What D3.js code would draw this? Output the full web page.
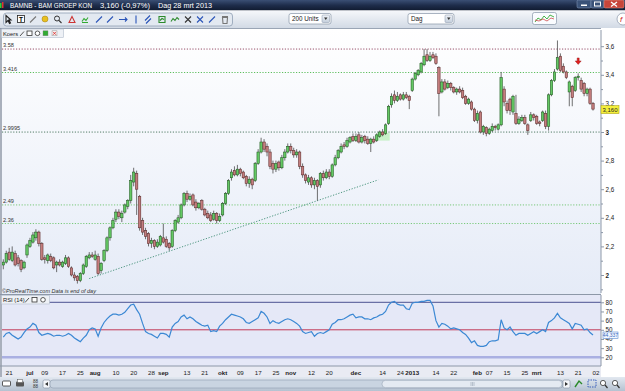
<!DOCTYPE html>
<html>
<head>
<meta charset="utf-8">
<script src="https://cdn.jsdelivr.net/npm/d3@7"></script>
<style>
body { margin: 0; background: #fff; }
svg { display: block; font-family: "Liberation Sans", Arial, sans-serif; }
</style>
</head>
<body>
<script>
// daily bars BAMNB, 19 jun 2012 - 28 mrt 2013 (index 0..199)
const opens = [2.07,2.09,2.16,2.10,2.15,2.12,2.10,2.05,2.14,2.20,2.23,2.26,2.30,2.22,2.12,2.10,2.13,2.12,2.07,2.09,
    2.06,2.08,2.12,2.05,2.00,1.99,1.96,2.01,2.06,2.12,2.14,2.11,2.13,2.03,2.10,2.17,2.26,2.33,2.39,2.44,
    2.40,2.44,2.48,2.52,2.65,2.71,2.55,2.38,2.31,2.29,2.22,2.24,2.20,2.21,2.26,2.25,2.22,2.20,2.31,2.37,
    2.40,2.49,2.57,2.53,2.56,2.51,2.47,2.52,2.46,2.43,2.42,2.39,2.43,2.38,2.42,2.50,2.57,2.68,2.73,2.70,
    2.74,2.72,2.69,2.64,2.67,2.66,2.78,2.86,2.93,2.90,2.86,2.78,2.74,2.79,2.75,2.82,2.86,2.90,2.87,2.84,
    2.86,2.76,2.70,2.65,2.68,2.63,2.66,2.63,2.71,2.68,2.72,2.69,2.77,2.82,2.86,2.91,2.90,2.93,2.97,2.94,
    2.98,2.93,2.97,2.95,2.92,2.95,2.94,2.97,3.00,2.99,3.06,3.19,3.26,3.22,3.26,3.23,3.26,3.25,3.29,3.37,
    3.40,3.42,3.47,3.54,3.50,3.54,3.53,3.45,3.28,3.35,3.31,3.34,3.31,3.28,3.30,3.29,3.25,3.20,3.21,3.16,
    3.08,3.14,3.00,3.03,2.99,3.01,3.04,3.02,3.05,3.30,3.20,3.23,3.14,3.13,3.06,3.08,3.10,3.05,3.08,3.12,
    3.11,3.07,3.08,3.13,3.04,3.26,3.36,3.44,3.53,3.46,3.42,3.28,3.32,3.29,3.38,3.36,3.34,3.27,3.30,3.20]
const highs = [2.11,2.17,2.19,2.20,2.17,2.14,2.11,2.10,2.22,2.26,2.30,2.32,2.31,2.23,2.14,2.15,2.15,2.13,2.10,2.11,
    2.10,2.14,2.13,2.06,2.02,2.00,2.02,2.08,2.14,2.16,2.16,2.17,2.15,2.09,2.18,2.27,2.34,2.40,2.46,2.46,
    2.45,2.50,2.53,2.70,2.75,2.73,2.56,2.40,2.33,2.30,2.26,2.25,2.25,2.28,2.36,2.27,2.23,2.32,2.39,2.42,
    2.50,2.58,2.59,2.57,2.57,2.53,2.51,2.53,2.47,2.45,2.44,2.45,2.44,2.43,2.51,2.58,2.67,2.74,2.76,2.77,
    2.75,2.73,2.70,2.69,2.68,2.79,2.88,2.96,2.95,2.92,2.88,2.80,2.80,2.80,2.84,2.88,2.92,2.92,2.89,2.88,
    2.87,2.78,2.71,2.70,2.69,2.68,2.67,2.72,2.73,2.74,2.74,2.78,2.84,2.88,2.92,2.93,2.96,2.97,2.99,2.99,
    3.00,2.98,2.98,2.97,2.96,2.97,2.99,3.01,3.02,3.06,3.19,3.27,3.29,3.28,3.27,3.28,3.28,3.26,3.38,3.42,
    3.44,3.49,3.58,3.58,3.56,3.56,3.55,3.46,3.37,3.37,3.36,3.35,3.32,3.31,3.32,3.31,3.26,3.24,3.22,3.17,
    3.15,3.15,3.05,3.04,3.03,3.06,3.05,3.06,3.42,3.32,3.22,3.24,3.26,3.26,3.11,3.12,3.12,3.06,3.14,3.13,
    3.12,3.08,3.15,3.15,3.27,3.37,3.44,3.64,3.55,3.48,3.43,3.36,3.33,3.39,3.41,3.38,3.35,3.31,3.31,3.21]
const lows = [2.04,2.08,2.10,2.09,2.06,2.06,2.02,2.04,2.12,2.19,2.22,2.24,2.20,2.10,2.08,2.08,2.09,2.04,2.02,2.06,
    2.05,2.07,2.05,1.99,1.96,1.94,1.95,2.00,2.05,2.11,2.12,2.10,2.00,2.01,2.09,2.16,2.24,2.32,2.37,2.39,
    2.37,2.43,2.46,2.50,2.62,2.42,2.31,2.28,2.25,2.20,2.19,2.18,2.19,2.20,2.22,2.19,2.17,2.19,2.30,2.36,
    2.39,2.48,2.51,2.52,2.48,2.45,2.46,2.45,2.41,2.39,2.37,2.38,2.36,2.37,2.41,2.49,2.56,2.66,2.69,2.69,
    2.69,2.67,2.62,2.61,2.60,2.65,2.77,2.85,2.86,2.83,2.74,2.71,2.72,2.73,2.74,2.80,2.85,2.85,2.82,2.82,
    2.74,2.68,2.64,2.63,2.61,2.60,2.52,2.61,2.66,2.67,2.67,2.68,2.76,2.81,2.85,2.88,2.89,2.92,2.93,2.93,
    2.92,2.92,2.92,2.91,2.86,2.92,2.93,2.96,2.97,2.98,3.05,3.17,3.20,3.21,3.22,3.22,3.23,3.16,3.28,3.36,
    3.39,3.41,3.46,3.49,3.49,3.51,3.47,3.11,3.27,3.29,3.30,3.29,3.27,3.26,3.27,3.23,3.19,3.19,3.15,3.07,
    3.06,2.99,2.98,2.97,2.98,3.00,3.01,3.01,3.04,3.18,3.13,3.12,3.12,3.05,3.05,3.07,3.05,2.98,3.07,3.08,
    3.05,3.04,3.07,3.02,3.01,3.25,3.35,3.43,3.42,3.41,3.37,3.18,3.18,3.28,3.36,3.28,3.25,3.25,3.19,3.15]
const closes = [2.09,2.15,2.11,2.16,2.07,2.08,2.04,2.09,2.21,2.24,2.28,2.30,2.22,2.11,2.11,2.14,2.10,2.05,2.09,2.07,
    2.09,2.12,2.06,2.00,1.98,1.96,2.01,2.07,2.13,2.14,2.13,2.14,2.01,2.08,2.17,2.26,2.33,2.38,2.44,2.41,
    2.43,2.49,2.52,2.66,2.72,2.60,2.33,2.30,2.27,2.22,2.24,2.20,2.23,2.27,2.23,2.20,2.19,2.31,2.38,2.40,
    2.49,2.57,2.53,2.55,2.49,2.47,2.50,2.46,2.42,2.40,2.38,2.43,2.38,2.41,2.50,2.57,2.66,2.72,2.70,2.74,
    2.71,2.68,2.64,2.67,2.63,2.78,2.86,2.93,2.88,2.86,2.76,2.74,2.78,2.75,2.82,2.86,2.90,2.87,2.84,2.86,
    2.76,2.70,2.66,2.68,2.63,2.66,2.62,2.71,2.68,2.72,2.69,2.77,2.82,2.87,2.90,2.90,2.94,2.96,2.94,2.97,
    2.93,2.96,2.94,2.92,2.95,2.93,2.98,3.00,2.98,3.05,3.18,3.25,3.22,3.25,3.23,3.26,3.24,3.22,3.37,3.41,
    3.43,3.48,3.53,3.50,3.53,3.52,3.48,3.27,3.35,3.30,3.34,3.31,3.28,3.30,3.28,3.24,3.20,3.23,3.16,3.08,
    3.13,3.00,3.04,2.99,3.02,3.04,3.03,3.05,3.38,3.21,3.15,3.15,3.25,3.06,3.09,3.10,3.06,3.01,3.12,3.10,
    3.06,3.06,3.14,3.04,3.26,3.36,3.42,3.52,3.43,3.42,3.38,3.35,3.24,3.38,3.39,3.30,3.27,3.30,3.20,3.16]

// RSI (14), read per bar
const rsi = [42,46,47,44,42,40,42,47,51,53,57,55,47,44,45,46,45,43,44,44,
    43,44,46,44,41,39,37,41,44,50,52,51,43,52,58,62,65,67,67,66,
    67,69,73,77,78,72,67,57,48,46,45,43,41,46,46,45,42,53,57,59,
    64,66,62,64,62,59,57,55,54,55,48,49,48,54,57,61,64,67,66,65,
    64,62,58,57,59,61,63,70,68,64,57,60,58,57,59,61,62,61,59,57,
    54,48,46,47,48,43,46,47,46,48,50,56,58,61,61,62,64,66,67,63,
    64,64,62,62,61,63,64,66,67,70,77,80,81,78,77,77,73,72,79,80,
    80,81,81,82,82,76,60,53,57,56,54,51,52,51,50,47,45,41,36,38,
    33,32,32,33,37,38,38,39,61,52,50,53,48,44,46,46,46,44,46,48,
    46,48,50,48,58,60,63,68,63,61,59,57,51,57,56,55,50,51,47,44.337]

// horizontal levels drawn on the chart
const levels = [3.58, 3.416, 2.9995, 2.49, 2.36]
// trend line: [bar index, price]
const trendLine = [[29, 1.975], [126.5, 2.665]]
// shaded zone: bar index from/to, price from/to
const zoneIdx = [126, 130.4]
const zonePrice = [2.94, 2.993]
// sell arrow above bar
const arrowIdx = 194
const arrowPrice = 3.49

const priceTicks = [2, 2.2, 2.4, 2.6, 2.8, 3, 3.2, 3.4, 3.6]
const priceMinor = [1.9, 2.1, 2.3, 2.5, 2.7, 2.9, 3.1, 3.3, 3.5]
const rsiTicks = [20, 30, 40, 50, 60, 70, 80]
const rsiLevels = [80, 50, 20]
const dateTickIdx = [2, 9, 14, 20, 26, 31, 38, 44, 50, 54, 62, 68, 74, 80, 86, 92, 97, 104, 110, 119,
    128, 134, 138, 146, 152, 160, 164, 170, 176, 180, 188, 194, 200]
const dateTickText = ['21', 'jul', '09', '17', '25', 'aug', '10', '20', '28', 'sep', '13', '21', 'okt', '09', '17', '25', 'nov', '12', '20', 'dec',
    '14', '24', '2013', '14', '22', 'feb', '07', '15', '25', 'mrt', '13', '21', '02']

let nl = d3.formatLocale({decimal: ',', thousands: '.', grouping: [3], currency: ['€', '']})

let svg = d3.select('body')
    .append('svg')
    .attr('width', 625)
    .attr('height', 391)

let defs = svg.append('defs')
function vgrad(id, stops) {
    let g = defs.append('linearGradient').attr('id', id)
        .attr('x1', 0).attr('y1', 0).attr('x2', 0).attr('y2', 1)
    stops.forEach(s => g.append('stop').attr('offset', s[0]).attr('stop-color', s[1]))
}
vgrad('titleBg', [[0, '#3a4f74'], [0.5, '#1e2d4b'], [1, '#101b30']])
vgrad('toolBg', [[0, '#f6f8fb'], [1, '#d2dae5']])
vgrad('panelBg', [[0, '#ffffff'], [1, '#e5ebf7']])
vgrad('bottomBg', [[0, '#e2e8f0'], [1, '#b5c2d1']])
vgrad('btnBg', [[0, '#f0f3f8'], [1, '#c3cedb']])

defs.append('clipPath').attr('id', 'priceClip')
    .append('rect').attr('x', 2).attr('y', 29).attr('width', 599).attr('height', 264)
defs.append('clipPath').attr('id', 'rsiClip')
    .append('rect').attr('x', 2).attr('y', 295).attr('width', 599).attr('height', 71)

let x = d3.scaleLinear().domain([0, 199]).range([3.3, 593])
let y = d3.scaleLinear().domain([2, 3.6]).range([275, 46.2])
let yr = d3.scaleLinear().domain([20, 80]).range([357.3, 302.3])

// ---------- title bar ----------
svg.append('rect').attr('x', 0).attr('y', 0).attr('width', 625).attr('height', 10.5).attr('fill', 'url(#titleBg)')
svg.append('rect').attr('x', 0).attr('y', 3).attr('width', 1.5).attr('height', 5).attr('fill', '#3c3')
svg.append('rect').attr('x', 2).attr('y', 2).attr('width', 1.5).attr('height', 6).attr('fill', '#d33')
let title = svg.append('g').attr('fill', '#fff').attr('font-size', '7px')
title.append('text').attr('x', 10).attr('y', 8).attr('textLength', 82).attr('lengthAdjust', 'spacingAndGlyphs').text('BAMNB - BAM GROEP KON')
title.append('text').attr('x', 100).attr('y', 8).attr('textLength', 50).attr('lengthAdjust', 'spacingAndGlyphs').text('3,160 (-0,97%)')
title.append('text').attr('x', 158).attr('y', 8).attr('textLength', 54).attr('lengthAdjust', 'spacingAndGlyphs').text('Dag  28 mrt 2013')
// window buttons
let wb = svg.append('g')
wb.append('rect').attr('x', 577).attr('y', 0).attr('width', 14).attr('height', 8).attr('rx', 1.5).attr('fill', '#3a5278').attr('stroke', '#8ea2c2').attr('stroke-width', 0.5)
wb.append('rect').attr('x', 581).attr('y', 4.5).attr('width', 6).attr('height', 1.5).attr('fill', '#fff')
wb.append('rect').attr('x', 591).attr('y', 0).attr('width', 13).attr('height', 8).attr('rx', 1.5).attr('fill', '#3a5278').attr('stroke', '#8ea2c2').attr('stroke-width', 0.5)
wb.append('rect').attr('x', 594.5).attr('y', 2).attr('width', 6).attr('height', 4).attr('fill', 'none').attr('stroke', '#fff').attr('stroke-width', 1)
wb.append('rect').attr('x', 604).attr('y', 0).attr('width', 20).attr('height', 8).attr('rx', 1.5).attr('fill', '#c8463a').attr('stroke', '#e8a090').attr('stroke-width', 0.5)
wb.append('path').attr('d', 'M611,2 L617,6.5 M617,2 L611,6.5').attr('stroke', '#fff').attr('stroke-width', 1.3)

// ---------- toolbar ----------
svg.append('rect').attr('x', 0).attr('y', 10.5).attr('width', 625).attr('height', 17.5).attr('fill', 'url(#toolBg)')
svg.append('rect').attr('x', 3.5).attr('y', 13).attr('width', 229).attr('height', 13).attr('rx', 3)
    .attr('fill', '#e3e9f1').attr('stroke', '#8f9fb4').attr('stroke-width', 0.8)
let icons = [
    [8, 'M-2,-4 L-2,3 L0,1 L1.5,4 L2.5,3.5 L1,0.5 L3,0.5 Z', '#222', 'none'],
    [33, 'M-3,3 L3,-3', '#777', 'none'],
    [58, 'M1,1 L3.5,3.5', '#333', 'none'],
    [72, 'M-3,3 L0,-3 L3,3 Z', '#c33', 'none'],
    [85, 'M-3,2 L-1,-1 L1,1 L3,-2 M-3,3 L3,3', '#3a3', 'none'],
    [99, 'M-3,3 L3,-3', '#2a54b8', 'none'],
    [110, 'M-3,3 L3,-3', '#2a54b8', 'none'],
    [123, 'M-4,0 L4,0 M2,-2 L4,0 L2,2', '#2a54b8', 'none'],
    [136, 'M0,-4 L0,4', '#2a54b8', 'none'],
    [148, 'M-3,1 L2,-4 M-2,4 L3,-1', '#2a54b8', 'none'],
    [162, 'M-3,-3 L3,-3 L3,3 L-3,3 Z M-2,1 L0,-1 L2,0', '#2b8a2b', 'none'],
    [175, 'M-4,2 L-2,-1 L0,1 L2,-2 L4,0', '#2b8a2b', 'none'],
    [188, 'M-3,-3 L3,3 M3,-3 L-3,3', '#333', 'none'],
    [200, 'M-3,-3 L3,3 M3,-3 L-3,3', '#2a54b8', 'none'],
    [212, 'M-3,3 L3,-3', '#2a54b8', 'none'],
    [225, 'M-2.5,-2 L2.5,-2 L2,4 L-2,4 Z M-3,-3 L3,-3', '#777', 'none']
]
let ig = svg.append('g')
icons.forEach(d => {
    ig.append('path').attr('transform', `translate(${d[0]},19.5)`).attr('d', d[1])
        .attr('stroke', d[2]).attr('stroke-width', 1.1).attr('fill', d[3])
})
ig.append('rect').attr('x', 17.5).attr('y', 15.5).attr('width', 7).attr('height', 7).attr('fill', '#fff').attr('stroke', '#222').attr('stroke-width', 0.8)
ig.append('text').attr('x', 21).attr('y', 21.7).attr('text-anchor', 'middle').attr('font-size', '6.5px').attr('font-weight', 'bold').text('T')
ig.append('circle').attr('cx', 45).attr('cy', 19).attr('r', 3).attr('fill', '#e8c020').attr('stroke', '#a07a10').attr('stroke-width', 0.5)
ig.append('circle').attr('cx', 57).attr('cy', 18.5).attr('r', 2.5).attr('fill', 'none').attr('stroke', '#333').attr('stroke-width', 1)

function combo(x0, w, label) {
    svg.append('rect').attr('x', x0).attr('y', 13.5).attr('width', w).attr('height', 10.5).attr('rx', 2)
        .attr('fill', '#fff').attr('stroke', '#8795a8').attr('stroke-width', 0.7)
    svg.append('text').attr('x', x0 + 3).attr('y', 21).attr('font-size', '6.3px').attr('fill', '#222').text(label)
    svg.append('rect').attr('x', x0 + w - 9).attr('y', 15).attr('width', 7.5).attr('height', 7.5).attr('rx', 1)
        .attr('fill', 'url(#btnBg)').attr('stroke', '#8795a8').attr('stroke-width', 0.5)
    svg.append('path').attr('d', `M${x0 + w - 7},17.5 L${x0 + w - 3.5},17.5 L${x0 + w - 5.25},20 Z`).attr('fill', '#333')
}
combo(289, 42, '200 Units')
combo(408, 46, 'Dag')
svg.append('rect').attr('x', 532.5).attr('y', 12.5).attr('width', 24).attr('height', 12).attr('rx', 2)
    .attr('fill', '#fafcff').attr('stroke', '#8795a8').attr('stroke-width', 0.7)
svg.append('path').attr('d', 'M535,22 L538,18 L541,20 L544,16 L547,19 L550,15 L554,17').attr('fill', 'none').attr('stroke', '#3a3').attr('stroke-width', 0.9)
svg.append('path').attr('d', 'M535,20 L539,21 L543,19 L547,21 L551,18 L554,19').attr('fill', 'none').attr('stroke', '#c33').attr('stroke-width', 0.7)
svg.append('circle').attr('cx', 623).attr('cy', 19).attr('r', 6).attr('fill', '#fff').attr('stroke', '#8795a8').attr('stroke-width', 0.7)
svg.append('text').attr('x', 620).attr('y', 22).attr('font-size', '8px').attr('font-style', 'italic').attr('fill', '#c22').text('f')

// ---------- price panel ----------
svg.append('rect').attr('x', 0).attr('y', 28).attr('width', 625).attr('height', 349).attr('fill', '#fff')
svg.append('rect').attr('x', 2).attr('y', 29).attr('width', 599).attr('height', 265).attr('fill', 'url(#panelBg)')
svg.append('line').attr('x1', 0).attr('x2', 601).attr('y1', 28.5).attr('y2', 28.5).attr('stroke', '#9aa5b5')
svg.append('line').attr('x1', 1).attr('x2', 1).attr('y1', 28).attr('y2', 377).attr('stroke', '#8c96a6').attr('stroke-width', 1.5)

let pg = svg.append('g').attr('clip-path', 'url(#priceClip)')

let levelColor = ['#8c3c58', '#4cb84c', '#3f6e55', '#6cc46c', '#6cc46c']
pg.selectAll('line.level').data(levels).join('line').attr('class', 'level')
    .attr('x1', 2).attr('x2', 601)
    .attr('y1', d => y(d)).attr('y2', d => y(d))
    .attr('stroke', (d, i) => levelColor[i]).attr('stroke-width', 0.9).attr('stroke-dasharray', '1.2,1.6')
pg.selectAll('text.level').data(levels).join('text').attr('class', 'level')
    .attr('x', 3).attr('y', d => y(d) - 1.8)
    .attr('font-size', '5.6px').attr('fill', '#333')
    .text(d => d)

pg.append('rect')
    .attr('x', x(zoneIdx[0])).attr('width', x(zoneIdx[1]) - x(zoneIdx[0]))
    .attr('y', y(zonePrice[1])).attr('height', y(zonePrice[0]) - y(zonePrice[1]))
    .attr('fill', '#bff0bf').attr('opacity', 0.85)

pg.append('line')
    .attr('x1', x(trendLine[0][0])).attr('y1', y(trendLine[0][1]))
    .attr('x2', x(trendLine[1][0])).attr('y2', y(trendLine[1][1]))
    .attr('stroke', '#3a8a70').attr('stroke-width', 0.9).attr('stroke-dasharray', '1.2,1.6')

let bars = d3.range(closes.length).map(i => ({i: i, o: opens[i], h: highs[i], l: lows[i], c: closes[i]}))
pg.selectAll('line.wick').data(bars).join('line').attr('class', 'wick')
    .attr('x1', d => x(d.i)).attr('x2', d => x(d.i))
    .attr('y1', d => y(d.h)).attr('y2', d => y(d.l))
    .attr('stroke', '#4b4b4b').attr('stroke-width', 0.8)
pg.selectAll('rect.body').data(bars).join('rect').attr('class', 'body')
    .attr('x', d => x(d.i) - 1.2).attr('width', 2.4)
    .attr('y', d => y(Math.max(d.o, d.c)))
    .attr('height', d => Math.max(1, Math.abs(y(d.o) - y(d.c))))
    .attr('fill', d => d.c >= d.o ? '#64c864' : '#c47e7e')
    .attr('stroke', d => d.c >= d.o ? '#1f5a1f' : '#5c2a2a')
    .attr('stroke-width', 0.55)

// sell arrow
let ax = x(arrowIdx), ay = y(arrowPrice)
pg.append('path')
    .attr('d', `M${ax - 1},${ay - 4} L${ax + 1},${ay - 4} L${ax + 1},${ay - 1} L${ax + 3},${ay - 1} L${ax},${ay + 2.5} L${ax - 3},${ay - 1} L${ax - 1},${ay - 1} Z`)
    .attr('fill', '#e02020').attr('stroke', '#901010').attr('stroke-width', 0.4)

// header "Koers"
let kh = svg.append('g')
kh.append('rect').attr('x', 1.5).attr('y', 29).attr('width', 62).attr('height', 8.5).attr('fill', '#eef1f6').attr('stroke', '#b3bccb').attr('stroke-width', 0.6)
kh.append('text').attr('x', 3).attr('y', 35.5).attr('font-size', '5.8px').attr('fill', '#222').text('Koers')
kh.append('path').attr('d', 'M20,36 L24,31.5').attr('stroke', '#555').attr('stroke-width', 1)
kh.append('rect').attr('x', 27).attr('y', 31).attr('width', 5).attr('height', 4.5).attr('fill', '#fff').attr('stroke', '#333').attr('stroke-width', 0.8)
kh.append('circle').attr('cx', 37.5).attr('cy', 33.3).attr('r', 2.3).attr('fill', '#fff').attr('stroke', '#333').attr('stroke-width', 0.8)
kh.append('rect').attr('x', 43).attr('y', 30.8).attr('width', 5).attr('height', 5).attr('fill', '#3a3').attr('stroke', '#888').attr('stroke-width', 0.4)
kh.append('rect').attr('x', 52).attr('y', 30.8).attr('width', 5).attr('height', 5).attr('fill', '#f3f3f3').attr('stroke', '#888').attr('stroke-width', 0.4)
kh.append('path').attr('d', 'M53,31.8 L56,34.8 M56,31.8 L53,34.8').attr('stroke', '#d22').attr('stroke-width', 0.8)

// right price axis
svg.append('line').attr('x1', 601).attr('x2', 601).attr('y1', 30).attr('y2', 293).attr('stroke', '#8d98a8')
let pax = svg.append('g').attr('transform', 'translate(601,0)')
    .call(d3.axisRight(y).tickValues(priceTicks).tickSize(3).tickPadding(1.5).tickFormat(nl.format('.1~f')))
pax.select('.domain').remove()
pax.selectAll('line').attr('stroke', '#8d98a8')
pax.selectAll('text').attr('font-size', '6.3px').attr('fill', '#222')
    .attr('font-weight', d => d % 1 === 0 ? 'bold' : 'normal')
let pmx = svg.append('g').attr('transform', 'translate(601,0)')
    .call(d3.axisRight(y).tickValues(priceMinor).tickSize(2).tickFormat(''))
pmx.select('.domain').remove()
pmx.selectAll('line').attr('stroke', '#8d98a8')

let lastClose = closes[closes.length - 1]
svg.append('rect').attr('x', 601).attr('y', y(lastClose) - 3.5).attr('width', 18).attr('height', 8)
    .attr('fill', '#f4ef3a').attr('stroke', '#b0a420').attr('stroke-width', 0.6)
svg.append('text').attr('x', 610).attr('y', y(lastClose) + 2.6).attr('text-anchor', 'middle')
    .attr('font-size', '6px').attr('fill', '#222').text(nl.format('.3f')(lastClose))

svg.append('text').attr('x', 2).attr('y', 292.5).attr('font-size', '5.5px').attr('font-style', 'italic').attr('fill', '#333')
    .text('©ProRealTime.com  Data is end of day')

// ---------- RSI panel ----------
svg.append('line').attr('x1', 0).attr('x2', 601).attr('y1', 294.5).attr('y2', 294.5).attr('stroke', '#8d98a8')
svg.append('rect').attr('x', 2).attr('y', 295).attr('width', 599).attr('height', 71).attr('fill', '#e5e8f7')
let rg = svg.append('g').attr('clip-path', 'url(#rsiClip)')
let rsiLevelColor = ['#4c5290', '#c23a58', '#aab0e2']
let rsiLevelWidth = [1, 1, 2.6]
rg.selectAll('line.rl').data(rsiLevels).join('line').attr('class', 'rl')
    .attr('x1', 2).attr('x2', 601)
    .attr('y1', d => yr(d)).attr('y2', d => yr(d))
    .attr('stroke', (d, i) => rsiLevelColor[i]).attr('stroke-width', (d, i) => rsiLevelWidth[i])
rg.append('path').datum(rsi)
    .attr('d', d3.line().x((d, i) => x(i)).y(d => yr(d)))
    .attr('fill', 'none').attr('stroke', '#3b88d4').attr('stroke-width', 1.2)

let rh = svg.append('g')
rh.append('rect').attr('x', 1.5).attr('y', 295.5).attr('width', 48).attr('height', 8.5).attr('fill', '#eef1f6').attr('stroke', '#b3bccb').attr('stroke-width', 0.6)
rh.append('text').attr('x', 3).attr('y', 302).attr('font-size', '5.8px').attr('fill', '#222').text('RSI (14)')
rh.append('path').attr('d', 'M25,302.5 L29,298').attr('stroke', '#555').attr('stroke-width', 1)
rh.append('rect').attr('x', 32).attr('y', 297.5).attr('width', 5).attr('height', 4.5).attr('fill', '#fff').attr('stroke', '#333').attr('stroke-width', 0.8)
rh.append('circle').attr('cx', 43).attr('cy', 299.8).attr('r', 2.3).attr('fill', '#fff').attr('stroke', '#333').attr('stroke-width', 0.8)

svg.append('line').attr('x1', 601).attr('x2', 601).attr('y1', 295).attr('y2', 366).attr('stroke', '#8d98a8')
let rax = svg.append('g').attr('transform', 'translate(601,0)')
    .call(d3.axisRight(yr).tickValues(rsiTicks).tickSize(3).tickPadding(1.5))
rax.select('.domain').remove()
rax.selectAll('line').attr('stroke', '#8d98a8')
rax.selectAll('text').attr('font-size', '6.3px').attr('fill', '#222')

let lastRsi = rsi[rsi.length - 1]
svg.append('rect').attr('x', 603).attr('y', yr(lastRsi) - 3).attr('width', 15).attr('height', 6.5)
    .attr('fill', '#f2f7ff').attr('stroke', '#5a8ad0').attr('stroke-width', 0.6)
svg.append('text').attr('x', 610.5).attr('y', yr(lastRsi) + 1.9).attr('text-anchor', 'middle')
    .attr('font-size', '5px').attr('fill', '#3a6cc0').text(nl.format('.3f')(lastRsi))

// ---------- time axis ----------
svg.append('rect').attr('x', 2).attr('y', 366).attr('width', 599).attr('height', 11).attr('fill', '#e9ebf3')
svg.append('line').attr('x1', 0).attr('x2', 601).attr('y1', 366).attr('y2', 366).attr('stroke', '#8d98a8')
svg.append('g').selectAll('text').data(dateTickIdx).join('text')
    .attr('x', d => x(d)).attr('y', 374.5)
    .attr('text-anchor', 'middle').attr('font-size', '6.2px').attr('fill', '#222')
    .attr('font-weight', (d, i) => dateTickText[i].length > 2 ? 'bold' : 'normal')
    .text((d, i) => dateTickText[i])

// ---------- bottom toolbar ----------
svg.append('rect').attr('x', 0).attr('y', 377).attr('width', 625).attr('height', 14).attr('fill', 'url(#bottomBg)')
let bt = svg.append('g')
bt.append('rect').attr('x', 2.5).attr('y', 381).attr('width', 8).attr('height', 5).attr('rx', 1).attr('fill', '#fff').attr('stroke', '#333').attr('stroke-width', 0.8)
bt.append('rect').attr('x', 16).attr('y', 381.5).attr('width', 8).attr('height', 5).attr('rx', 1).attr('fill', '#555')
bt.append('rect').attr('x', 17.5).attr('y', 379.5).attr('width', 5).attr('height', 3).attr('fill', '#fff').attr('stroke', '#555').attr('stroke-width', 0.5)
bt.append('text').attr('x', 33).attr('y', 383).attr('font-size', '4.5px').attr('fill', '#333').text('88')
bt.append('text').attr('x', 33).attr('y', 388).attr('font-size', '4.5px').attr('fill', '#333').text('88')
bt.append('rect').attr('x', 43).attr('y', 380).attr('width', 7).attr('height', 8).attr('rx', 1.5).attr('fill', '#f4f6fa').attr('stroke', '#7d8a9c').attr('stroke-width', 0.6)
bt.append('path').attr('d', 'M48,382 L45,384 L48,386 Z').attr('fill', '#333')
bt.append('rect').attr('x', 50).attr('y', 380).attr('width', 513).attr('height', 8).attr('rx', 3).attr('fill', '#c9d4e1').attr('stroke', '#8f9cae').attr('stroke-width', 0.6)
bt.append('rect').attr('x', 382).attr('y', 380.3).attr('width', 180).attr('height', 7.4).attr('rx', 3.5).attr('fill', '#e4eaf2').attr('stroke', '#97a4b6').attr('stroke-width', 0.6)
bt.append('path').attr('d', 'M471,382 L471,386 M472.5,382 L472.5,386 M474,382 L474,386').attr('stroke', '#98a4b4').attr('stroke-width', 0.6)
bt.append('rect').attr('x', 563).attr('y', 380).attr('width', 7).attr('height', 8).attr('rx', 1.5).attr('fill', '#f4f6fa').attr('stroke', '#7d8a9c').attr('stroke-width', 0.6)
bt.append('path').attr('d', 'M565,382 L568,384 L565,386 Z').attr('fill', '#333')
bt.append('path').attr('d', 'M575,387 L579,381 L582,384').attr('fill', 'none').attr('stroke', '#2a8a2a').attr('stroke-width', 1.4)
bt.append('rect').attr('x', 588).attr('y', 380).attr('width', 8).attr('height', 7).attr('fill', 'none').attr('stroke', '#2a54b8').attr('stroke-width', 0.9).attr('stroke-dasharray', '1.5,1')
bt.append('circle').attr('cx', 603).attr('cy', 383).attr('r', 2.6).attr('fill', '#fff').attr('stroke', '#333').attr('stroke-width', 0.8)
bt.append('path').attr('d', 'M605,385 L607.5,388').attr('stroke', '#333').attr('stroke-width', 1.2)
bt.append('circle').attr('cx', 615).attr('cy', 383).attr('r', 2.6).attr('fill', '#fff').attr('stroke', '#333').attr('stroke-width', 0.8)
bt.append('path').attr('d', 'M617,385 L619.5,388').attr('stroke', '#333').attr('stroke-width', 1.2)
</script>
</body>
</html>
